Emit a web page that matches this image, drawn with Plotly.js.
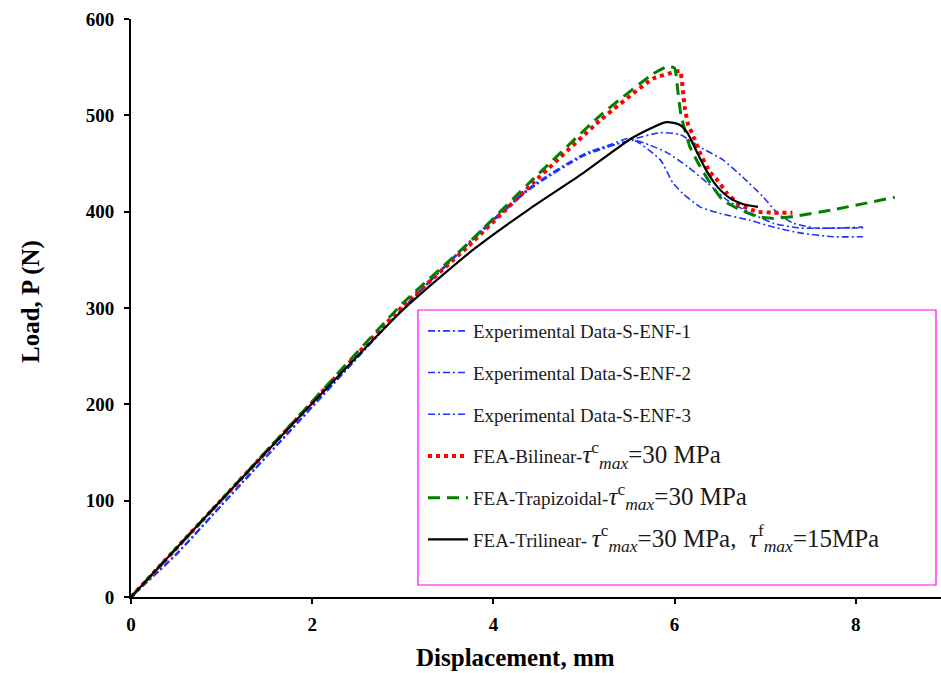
<!DOCTYPE html>
<html>
<head>
<meta charset="utf-8">
<script src="https://cdn.plot.ly/plotly-3.0.1.min.js"></script>
<style>html,body{margin:0;padding:0;background:#fff;}#chart{width:941px;height:673px;}</style>
</head>
<body>
<div id="chart"></div>
<script>
// Experimental Data-S-ENF-1
const exp1X = [0, 0.5, 1, 2, 3, 3.8, 4.4, 5.0, 5.3, 5.51, 5.84, 5.98, 6.09, 6.28, 6.47, 6.83, 7.09, 7.38, 7.75, 8.08];
const exp1Y = [0, 45, 96, 198, 300, 375, 425, 460, 470, 476, 454, 430, 419, 405, 399, 391, 384, 378, 374, 374];
// Experimental Data-S-ENF-2
const exp2X = [0, 0.5, 1, 2, 3, 3.8, 4.4, 5.0, 5.5, 5.84, 6.06, 6.28, 6.53, 6.75, 6.98, 7.13, 7.31, 7.57, 8.08];
const exp2Y = [0, 44, 95, 197, 299, 373, 423, 458, 474, 482, 480, 467, 454, 436, 415, 399, 388, 383, 384];
// Experimental Data-S-ENF-3
const exp3X = [0, 0.5, 1, 2, 3, 3.8, 4.4, 5.0, 5.54, 5.73, 5.92, 6.14, 6.36, 6.58, 6.83, 7.09, 7.38, 7.75, 8.08];
const exp3Y = [0, 44, 95, 197, 299, 374, 424, 459, 474, 469, 461, 447, 430, 412, 399, 388, 383, 383, 383];
// FEA-Bilinear
const biX = [0, 1, 2, 3, 3.71, 4.44, 5.18, 5.76, 6.0, 6.06, 6.11, 6.15, 6.19, 6.28, 6.39, 6.47, 6.58, 6.72, 6.91, 7.09, 7.30];
const biY = [0, 101, 202, 302, 363, 430, 495, 538, 545, 546, 509, 490, 482, 461, 441, 433, 419, 407, 400, 399, 399];
// FEA-Trapizoidal
const trX = [0, 1, 2, 3, 3.71, 4.44, 5.18, 5.76, 5.93, 6.0, 6.03, 6.07, 6.17, 6.28, 6.39, 6.53, 6.72, 6.91, 7.09, 7.31, 7.75, 8.43];
const trY = [0, 101, 203, 305, 366, 434, 500, 543, 551, 549, 530, 500, 467, 447, 430, 412, 402, 395, 393, 395, 402, 415];
// FEA-Trilinear
const triX = [0, 1, 2, 3, 3.77, 4.4, 4.99, 5.54, 5.91, 6.06, 6.14, 6.25, 6.36, 6.47, 6.61, 6.75, 6.92];
const triY = [0, 101, 201, 298, 360, 403, 440, 477, 493, 490, 482, 461, 441, 426, 414, 408, 405];

const xTicks = [0, 2, 4, 6, 8];
const yTicks = [0, 100, 200, 300, 400, 500, 600];

const names = [
  'Experimental Data-S-ENF-1',
  'Experimental Data-S-ENF-2',
  'Experimental Data-S-ENF-3',
  'FEA-Bilinear-<span style="font-size:25px"><i>τ</i><sup>c</sup><sub><i>max</i></sub>=30 MPa</span>',
  'FEA-Trapizoidal-<span style="font-size:25px"><i>τ</i><sup>c</sup><sub><i>max</i></sub>=30 MPa</span>',
  'FEA-Trilinear- <span style="font-size:25px"><i>τ</i><sup>c</sup><sub><i>max</i></sub>=30 MPa,  <i>τ</i><sup>f</sup><sub><i>max</i></sub>=15MPa</span>'
];

const SERIF = 'Liberation Serif';
const blue = '#1a35ff';
const traces = [
  {x: exp1X, y: exp1Y, name: names[0], line: {color: blue, width: 1.6, dash: '7px,3px,2px,3px', shape: 'spline', smoothing: 0.6}},
  {x: exp2X, y: exp2Y, name: names[1], line: {color: blue, width: 1.6, dash: '7px,3px,2px,3px', shape: 'spline', smoothing: 0.6}},
  {x: exp3X, y: exp3Y, name: names[2], line: {color: blue, width: 1.6, dash: '7px,3px,2px,3px', shape: 'spline', smoothing: 0.6}},
  {x: biX, y: biY, name: names[3], line: {color: '#ff0000', width: 4, dash: '4px,4px', shape: 'spline', smoothing: 0.4}},
  {x: trX, y: trY, name: names[4], line: {color: '#008000', width: 3, dash: '12px,7px', shape: 'spline', smoothing: 0.4}},
  {x: triX, y: triY, name: names[5], line: {color: '#000000', width: 2.2, shape: 'spline', smoothing: 0.6}}
].map((t, i) => Object.assign(t, {type: 'scatter', mode: 'lines', legendgroup: 'g' + i, hoverinfo: 'skip'}));

const L = 131, R = 0, T = 19, B = 76, W = 941, H = 673;
const pw = W - L - R, ph = H - T - B;
const px = v => (v - L) / pw;
const py = v => (H - B - v) / ph;

const layout = {
  width: W, height: H,
  margin: {l: L, r: R, t: T, b: B, pad: 0},
  paper_bgcolor: '#ffffff', plot_bgcolor: '#ffffff',
  font: {family: SERIF, color: '#000'},
  showlegend: true,
  legend: {
    x: px(423), y: py(312), xanchor: 'left', yanchor: 'top',
    bgcolor: 'rgba(0,0,0,0)', borderwidth: 0,
    font: {family: SERIF, size: 19, color: '#1a1a1a'},
    tracegroupgap: 14, itemwidth: 40
  },
  xaxis: {
    range: [0, 8.94], tickvals: xTicks, ticktext: xTicks.map(String),
    showline: true, linecolor: '#000', linewidth: 2, mirror: false,
    ticks: 'outside', ticklen: 5, tickwidth: 2, tickcolor: '#000',
    showgrid: false, zeroline: false, ticklabelstandoff: 4,
    tickfont: {family: 'Liberation Serif', size: 19, color: '#000', weight: 700}
  },
  yaxis: {
    range: [0, 600], tickvals: yTicks, ticktext: yTicks.map(String),
    showline: true, linecolor: '#000', linewidth: 2, mirror: false,
    ticks: 'outside', ticklen: 5, tickwidth: 2, tickcolor: '#000',
    showgrid: false, zeroline: false, ticklabelstandoff: 6,
    tickfont: {family: 'Liberation Serif', size: 19, color: '#000', weight: 700}
  },
  annotations: [
    {text: '<b>Displacement, mm</b>', xref: 'paper', yref: 'paper', x: px(515), y: py(657),
     xanchor: 'center', yanchor: 'middle', showarrow: false, font: {family: SERIF, size: 25, color: '#000'}},
    {text: '<b>Load, P (N)</b>', xref: 'paper', yref: 'paper', x: px(31), y: py(302), textangle: -90,
     xanchor: 'center', yanchor: 'middle', showarrow: false, font: {family: SERIF, size: 25, color: '#000'}}
  ],
  shapes: [{
    type: 'rect', xref: 'paper', yref: 'paper',
    x0: px(418), x1: px(936), y0: py(585), y1: py(310),
    line: {color: '#ff00ff', width: 1.2}, fillcolor: 'rgba(0,0,0,0)', layer: 'below'
  }]
};

Plotly.newPlot('chart', traces, layout, {staticPlot: true, displayModeBar: false});
</script>
</body>
</html>
